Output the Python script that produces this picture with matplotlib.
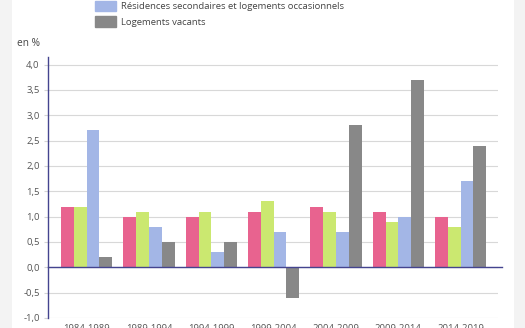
import numpy as np
import matplotlib.pyplot as plt
from matplotlib.patches import Rectangle, Patch

plt.rcParams['font.family'] = ['Open Sans', 'DejaVu Sans']

periodes = ["1984-1989", "1989-1994", "1994-1999", "1999-2004",
            "2004-2009", "2009-2014", "2014-2019"]
res_principales = [1.2, 1.0, 1.0, 1.1, 1.2, 1.1, 1.0]
parc_total = [1.2, 1.1, 1.1, 1.3, 1.1, 0.9, 0.8]
res_secondaires = [2.7, 0.8, 0.3, 0.7, 0.7, 1.0, 1.7]
log_vacants = [0.2, 0.5, 0.5, -0.6, 2.8, 3.7, 2.4]
yticks = [-1.0, -0.5, 0.0, 0.5, 1.0, 1.5, 2.0, 2.5, 3.0, 3.5, 4.0]

series = [res_principales, parc_total, res_secondaires, log_vacants]
colors = ["#e8638f", "#cbe870", "#a3b6e6", "#888888"]

W, H = 525, 328
fig = plt.figure(figsize=(W / 100, H / 100), dpi=100)
fig.patch.set_facecolor("#f3f3f3")
fig.patches.append(Rectangle((12 / W, 0), 502 / W, 1, transform=fig.transFigure,
                             facecolor="white", edgecolor="none", zorder=-5))

ax = fig.add_axes([48 / W, 1 - 318 / H, 450 / W, 261 / H])
ax.set_facecolor("none")

x = np.arange(len(periodes))
bw = 0.205
for i, (vals, c) in enumerate(zip(series, colors)):
    ax.bar(x + (i - 1.5) * bw, vals, bw, color=c, zorder=2)

ax.set_xlim(-0.62, 6.6)
ax.set_ylim(-1.0, 4.15)
ax.set_yticks(yticks)
ax.set_yticklabels([f"{v:.1f}".replace(".", ",") for v in yticks])
ax.set_xticks(x)
ax.set_xticklabels(periodes)
ax.tick_params(axis="y", length=3, color="#d4d4d4", labelsize=6.8,
               labelcolor="#555555", pad=3)
ax.tick_params(axis="x", length=0, labelsize=6.8, labelcolor="#555555", pad=4)
ax.grid(axis="y", color="#d8d8d8", linewidth=0.8, zorder=1)

for s in ["top", "right", "bottom"]:
    ax.spines[s].set_visible(False)
ax.spines["left"].set_color("#44448f")
ax.spines["left"].set_linewidth(1.0)
ax.axhline(0, xmin=0, xmax=1.01, color="#44448f", linewidth=1.0,
           clip_on=False, zorder=3)

fig.text(17 / W, 1 - 44 / H, "en %", fontsize=7.3, color="#444444",
         va="center", ha="left")

handles = [Patch(color=colors[2]), Patch(color=colors[3])]
labels = ["Résidences secondaires et logements occasionnels", "Logements vacants"]
fig.legend(handles, labels, loc="upper left", bbox_to_anchor=(95 / W, 1 - 0.5 / H),
           frameon=False, fontsize=6.8, handlelength=2.2, handleheight=1.3,
           handletextpad=0.6, labelspacing=0.6, borderpad=0, borderaxespad=0,
           labelcolor="#444444")

fig.savefig("out.png", dpi=100, facecolor=fig.get_facecolor())
